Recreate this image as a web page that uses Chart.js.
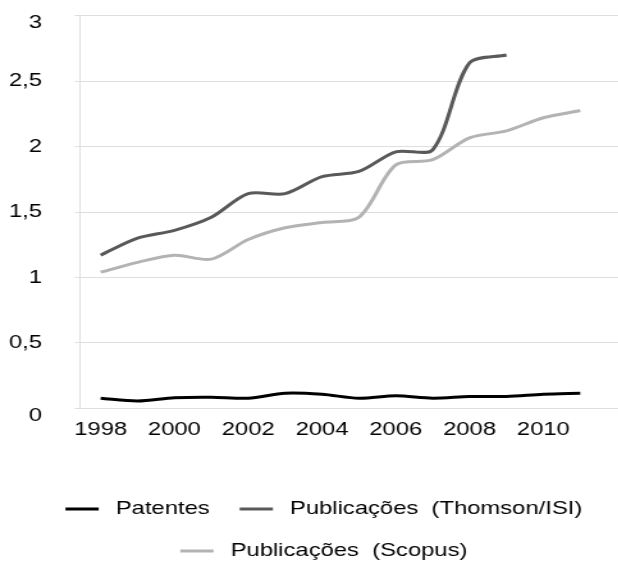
<!DOCTYPE html>
<html>
<head>
<meta charset="utf-8">
<script src="https://cdn.jsdelivr.net/npm/chart.js@4"></script>
<style>
  html, body { margin: 0; padding: 0; background: #fff; overflow: hidden; }
  #wrap { width: 483px; height: 563px; transform: scaleX(1.28); transform-origin: 0 0; }
</style>
</head>
<body>
<div id="wrap"><canvas id="chart" width="483" height="563"></canvas></div>
<script>
const years    = [1998, 1999, 2000, 2001, 2002, 2003, 2004, 2005, 2006, 2007, 2008, 2009, 2010, 2011];
const patentes = [0.077, 0.056, 0.081, 0.085, 0.077, 0.115, 0.107, 0.077, 0.095, 0.077, 0.09, 0.09, 0.107, 0.115];
const thomson  = [1.17, 1.30, 1.36, 1.46, 1.64, 1.64, 1.77, 1.81, 1.96, 1.975, 2.64, 2.70];
const scopus   = [1.04, 1.115, 1.17, 1.14, 1.29, 1.38, 1.42, 1.46, 1.86, 1.90, 2.067, 2.12, 2.22, 2.275];

const xTicks = [1998, 2000, 2002, 2004, 2006, 2008, 2010];
const yTicks = [0, 0.5, 1, 1.5, 2, 2.5, 3];
const yTickLabels = ['0', '0,5', '1', '1,5', '2', '2,5', '3'];

const seriesNames  = ['Patentes', 'Publicações  (Thomson/ISI)', 'Publicações  (Scopus)'];
const seriesColors = ['#000000', '#595959', '#b3b3b3'];

const toPoints = vals => vals.map((v, i) => ({ x: years[i], y: v }));
const font = { family: '"Liberation Sans", Arial, sans-serif', size: 18.6 };
// the end labels (0 and 3) sit a bit below their grid lines in the original
const isEndTick = v => v === yTicks[0] || v === yTicks[yTicks.length - 1];

new Chart(document.getElementById('chart'), {
  type: 'line',
  data: {
    datasets: [patentes, thomson, scopus].map((vals, i) => ({
      label: seriesNames[i],
      data: toPoints(vals),
      borderColor: seriesColors[i],
      backgroundColor: seriesColors[i],
      borderWidth: 3,
      pointRadius: 0,
      tension: 0.3,
      fill: false,
    })),
  },
  options: {
    responsive: false,
    animation: false,
    layout: { padding: { left: 0, top: 15.7, right: -23, bottom: -7.3 } },
    scales: {
      x: {
        type: 'linear',
        min: 1997.44,
        max: 2012.03,
        afterBuildTicks: s => { s.ticks = xTicks.map(v => ({ value: v })); },
        afterFit: s => { s.height = 68; },
        grid: { display: false, drawTicks: false },
        border: { display: false },
        ticks: { color: '#000', font, padding: 10, maxRotation: 0, callback: v => String(v) },
      },
      y: {
        min: 0,
        max: 3,
        afterBuildTicks: s => { s.ticks = yTicks.map(v => ({ value: v })); },
        afterFit: s => { s.width = 62.5; },
        grid: {
          color: '#dedede', lineWidth: 1,
          tickLength: 29.7,
          tickBorderDash: [0, 25.7, 4, 1000],
        },
        border: { display: true, color: '#dedede' },
        ticks: {
          color: '#000',
          padding: 0,
          font: c => ({ ...font, lineHeight: c.tick && isEndTick(c.tick.value) ? '15px' : 1.2 }),
          callback: v => isEndTick(v) ? ['', yTickLabels[yTicks.indexOf(v)]] : yTickLabels[yTicks.indexOf(v)],
        },
      },
    },
    plugins: {
      tooltip: { enabled: false },
      legend: {
        position: 'bottom',
        labels: {
          color: '#000',
          font,
          padding: 23.4,
          boxWidth: 30,
          boxHeight: 0,
          generateLabels: chart => chart.data.datasets.map((ds, i) => ({
            text: ds.label,
            fillStyle: 'rgba(0,0,0,0)',
            strokeStyle: ds.borderColor,
            lineWidth: 3,
            lineDash: [26, 1000],
            hidden: false,
            datasetIndex: i,
          })),
        },
      },
    },
  },
});
</script>
</body>
</html>
